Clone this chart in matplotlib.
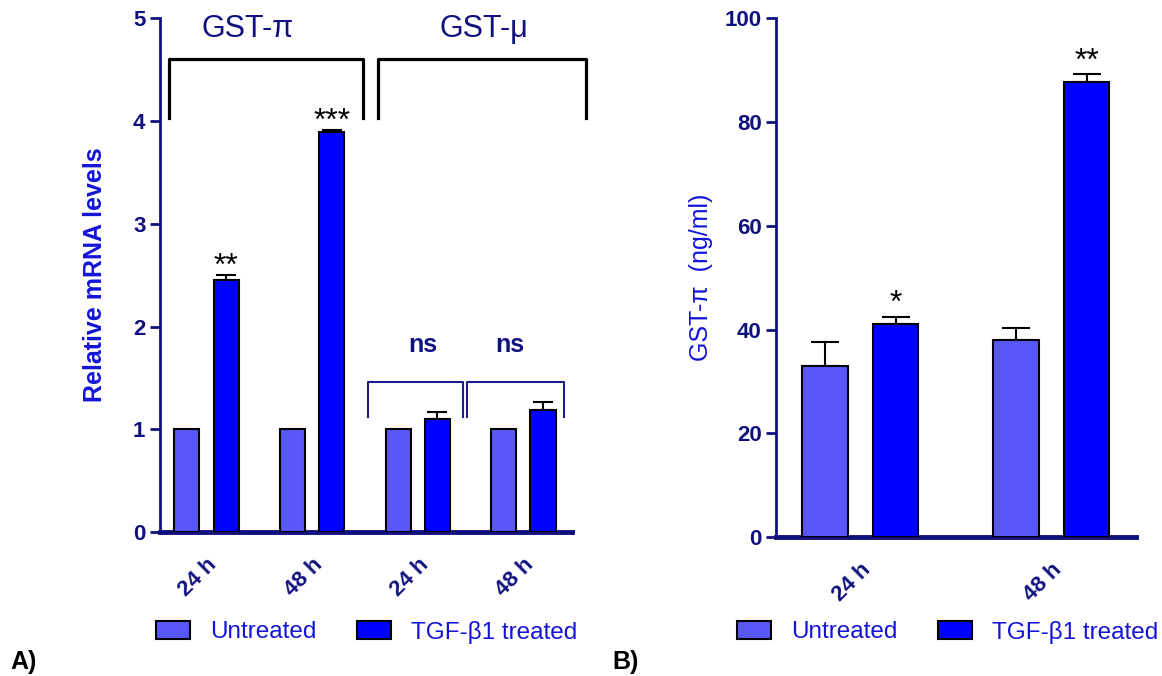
import numpy as np
import matplotlib
matplotlib.use("Agg")
import matplotlib.pyplot as plt
from matplotlib.patches import Patch

plt.rcParams['font.family'] = ['Liberation Sans', 'DejaVu Sans']

# panel A: relative mRNA levels
grupos_a = ['24 h', '48 h', '24 h', '48 h']
nao_tratado_a = [1.0, 1.0, 1.0, 1.0]
tratado_a = [2.45, 3.89, 1.10, 1.19]
erro_tratado_a = [0.05, 0.025, 0.07, 0.08]
estrelas_a = ['**', '***', '', '']

# panel B: GST-pi ng/ml
grupos_b = ['24 h', '48 h']
nao_tratado_b = [33.0, 38.0]
erro_nao_tratado_b = [4.5, 2.2]
tratado_b = [41.0, 87.8]
erro_tratado_b = [1.5, 1.5]
estrelas_b = ['*', '**']

cor_nt = '#5858f8'
cor_t = '#0000ff'
marinho = '#10107f'
azul_txt = '#1414d8'

fig = plt.figure(figsize=(11.62, 6.76), dpi=100)
axA = fig.add_axes([0.1377, 0.213, 0.3546, 0.760])
axB = fig.add_axes([0.668, 0.2056, 0.310, 0.7674])

larg = 0.237
desl = 0.185


def estilo(ax):
    for s in ['top', 'right']:
        ax.spines[s].set_visible(False)
    ax.spines['left'].set_color(marinho)
    ax.spines['left'].set_linewidth(2)
    ax.spines['bottom'].set_color(marinho)
    ax.spines['bottom'].set_linewidth(3.5)
    ax.tick_params(axis='y', colors=marinho, width=2, length=7, labelsize=16)
    ax.tick_params(axis='x', length=0, pad=16)
    for t in ax.get_yticklabels():
        t.set_fontweight('bold')


# ---- A ----
xa = np.arange(len(grupos_a))
axA.bar(xa - desl, nao_tratado_a, larg, color=cor_nt, edgecolor='black', linewidth=1.5, zorder=3)
axA.bar(xa + desl, tratado_a, larg, color=cor_t, edgecolor='black', linewidth=1.5, zorder=3)
axA.errorbar(xa + desl, tratado_a, yerr=[np.zeros(4), erro_tratado_a], fmt='none',
             ecolor='black', elinewidth=1.5, capsize=7, capthick=1.5, zorder=2)
axA.set_xlim(-0.44, 3.46)
axA.set_ylim(0, 5)
axA.set_yticks([0, 1, 2, 3, 4, 5])
estilo(axA)
axA.set_xticks(xa)
axA.set_xticklabels(grupos_a, rotation=45, ha='right', va='top', rotation_mode='anchor',
                    fontsize=16, fontweight='bold', color=marinho)
axA.set_ylabel('Relative mRNA levels', fontsize=18, fontweight='bold', color=azul_txt, labelpad=19)
for i in range(4):
    if estrelas_a[i]:
        axA.annotate(estrelas_a[i], (xa[i] + desl, tratado_a[i] + erro_tratado_a[i]),
                     xytext=(0, 0), textcoords='offset points',
                     ha='center', va='baseline', fontsize=23, color='black')

# big brackets
axA.plot([-0.355, -0.355, 1.485, 1.485], [4.03, 4.6, 4.6, 4.03], color='black', lw=2.3, clip_on=False)
axA.plot([1.62, 1.62, 3.59, 3.59], [4.03, 4.6, 4.6, 4.03], color='black', lw=2.3, clip_on=False)
axA.text(0.39, 4.9, 'GST-π', ha='center', va='center', fontsize=22, color=marinho)
axA.text(2.63, 4.9, 'GST-μ', ha='center', va='center', fontsize=22, color=marinho)
# small ns brackets
axA.plot([1.53, 1.53, 2.43, 2.43], [1.12, 1.46, 1.46, 1.12], color='#1c1c8c', lw=1.5)
axA.plot([2.47, 2.47, 3.38, 3.38], [1.12, 1.46, 1.46, 1.12], color='#1c1c8c', lw=1.5)
axA.text(2.05, 1.82, 'ns', ha='center', va='center', fontsize=18, fontweight='bold', color=marinho)
axA.text(2.87, 1.82, 'ns', ha='center', va='center', fontsize=18, fontweight='bold', color=marinho)

# ---- B ----
xb = np.arange(len(grupos_b))
axB.bar(xb - desl, nao_tratado_b, larg, color=cor_nt, edgecolor='black', linewidth=1.5, zorder=3)
axB.bar(xb + desl, tratado_b, larg, color=cor_t, edgecolor='black', linewidth=1.5, zorder=3)
axB.errorbar(xb - desl, nao_tratado_b, yerr=[np.zeros(2), erro_nao_tratado_b], fmt='none',
             ecolor='black', elinewidth=1.5, capsize=10, capthick=1.5, zorder=2)
axB.errorbar(xb + desl, tratado_b, yerr=[np.zeros(2), erro_tratado_b], fmt='none',
             ecolor='black', elinewidth=1.5, capsize=10, capthick=1.5, zorder=2)
axB.set_xlim(-0.44, 1.445)
axB.set_ylim(0, 100)
axB.set_yticks([0, 20, 40, 60, 80, 100])
estilo(axB)
axB.set_xticks(xb)
axB.set_xticklabels(grupos_b, rotation=45, ha='right', va='top', rotation_mode='anchor',
                    fontsize=16, fontweight='bold', color=marinho)
axB.set_ylabel('GST-π  (ng/ml)', fontsize=18, color=azul_txt, labelpad=8)
for i in range(2):
    axB.annotate(estrelas_b[i], (xb[i] + desl, tratado_b[i] + erro_tratado_b[i]),
                 xytext=(0, 3), textcoords='offset points',
                 ha='center', va='baseline', fontsize=23, color='black')

# legends
for x0 in [156 / 1162, 737 / 1162]:
    mao = [Patch(facecolor=cor_nt, edgecolor='black', linewidth=1.5, label='Untreated'),
           Patch(facecolor=cor_t, edgecolor='black', linewidth=1.5, label='TGF-β1 treated')]
    leg = fig.legend(handles=mao, loc='center left', bbox_to_anchor=(x0, 1 - 632 / 676), ncol=2,
                     frameon=False, fontsize=17.5, handlelength=1.4, handleheight=0.7,
                     columnspacing=1.65, handletextpad=0.84, borderpad=0, borderaxespad=0)
    for t in leg.get_texts():
        t.set_color(azul_txt)

fig.text(0.009, 0.01, 'A)', fontsize=18, fontweight='bold', color='black')
fig.text(0.527, 0.01, 'B)', fontsize=18, fontweight='bold', color='black')

fig.savefig('out.png', dpi=100)
